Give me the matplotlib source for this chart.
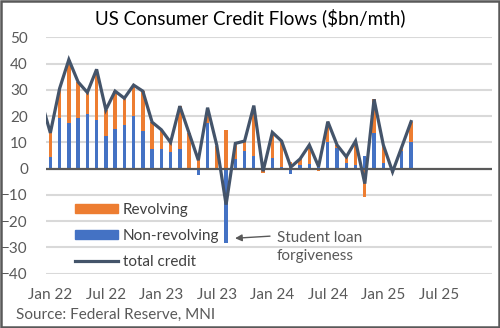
import matplotlib
matplotlib.use("Agg")
import matplotlib.pyplot as plt
from matplotlib.patches import Patch
from matplotlib.lines import Line2D
import numpy as np

plt.rcParams['font.family'] = ['Lato', 'DejaVu Sans']

# Months Jan 22 .. Apr 25
non_revolving = [4.4, 19.4, 17.5, 19.4, 20.9, 18.6, 12.4, 15.1, 16.6, 20.0,
                 14.3, 7.5, 7.4, 6.4, 7.5, 0.0, -2.3, 17.2, 0.3, -28.4,
                 3.6, 6.7, 4.8, 0.5, 4.0, 0.7, -1.9, 1.2, 1.7, 1.6,
                 10.2, 7.7, 2.0, 1.4, 5.0, 13.4, 2.3, 0.3, 6.8, 10.2]
revolving = [9.2, 11.1, 24.0, 13.6, 8.1, 19.2, 10.0, 14.4, 10.2, 11.8,
             15.2, 10.2, 7.4, 3.6, 16.3, 13.5, 5.5, 6.0, 8.5, 14.7,
             6.0, 3.8, 19.2, -1.5, 9.8, 9.8, 2.5, 2.5, 7.3, -0.8,
             7.7, 1.3, 2.5, 9.1, -10.7, 13.0, 6.7, -1.5, 1.5, 7.7]
total_dec21 = 26.0
tick_labels = ["Jan 22", "Jul 22", "Jan 23", "Jul 23", "Jan 24", "Jul 24", "Jan 25", "Jul 25"]
tick_pos = [0, 6, 12, 18, 24, 30, 36, 42]

nr = np.array(non_revolving)
rv = np.array(revolving)
total = nr + rv
x = np.arange(len(nr))

ORANGE = "#ED7D31"
BLUE = "#4472C4"
LINE = "#44546A"
GRID = "#D9D9D9"
AX = "#595959"

fig = plt.figure(figsize=(5.0, 3.28), dpi=100)
ax = fig.add_axes([0.092, 0.1655, 0.892, 0.7208])

w = 0.36
ax.bar(x, nr, width=w, color=BLUE, zorder=2)
# revolving stacks on non-revolving when same sign, else from zero
rv_bottom = np.where(np.sign(rv) == np.sign(nr), nr, 0.0)
ax.bar(x, rv, width=w, bottom=rv_bottom, color=ORANGE, zorder=2)

lx = np.concatenate([[-1], x])
ly = np.concatenate([[total_dec21], total])
ax.plot(lx, ly, color=LINE, lw=2.3, zorder=3, solid_joinstyle='miter')

ax.set_ylim(-40, 50)
ax.set_xlim(-0.47, 47.75)
ax.set_yticks(np.arange(-40, 51, 10))
for v in np.arange(-40, 51, 10):
    if v != 0:
        ax.axhline(v, color=GRID, lw=1.5, zorder=0)
ax.axhline(0, color=AX, lw=1.6, zorder=2.5)

ax.set_xticks(tick_pos)
ax.set_xticklabels(tick_labels)
ax.tick_params(axis='both', length=0, labelsize=11, colors=AX)
ax.tick_params(axis='y', pad=13)
ax.tick_params(axis='x', pad=10)
for s in ax.spines.values():
    s.set_visible(False)

fig.text(0.5, 0.945, "US Consumer Credit Flows ($bn/mth)", ha='center', va='center',
         fontsize=13.5, color='#000000')
fig.text(0.032, 0.04, "Source: Federal Reserve, MNI", ha='left', va='center',
         fontsize=11, color=AX)

handles = [Patch(color=ORANGE), Patch(color=BLUE), Line2D([], [], color=LINE, lw=2.3)]
leg = ax.legend(handles, ["Revolving", "Non-revolving", "total credit"],
                loc='upper left', bbox_to_anchor=(0.065, 0.30), frameon=False,
                fontsize=11, borderpad=0, handlelength=2.8, handleheight=0.55,
                labelspacing=0.78, handletextpad=0.35, borderaxespad=0)
for t in leg.get_texts():
    t.set_color("#404040")

ax.annotate('', xy=(19.97, -26.5), xytext=(23.75, -25.7),
            arrowprops=dict(arrowstyle='-|>', color=AX, lw=1.0, mutation_scale=10,
                            shrinkA=0, shrinkB=0))
ax.text(24.5, -30, "Student loan\nforgiveness", ha='left', va='center',
        fontsize=11, color=AX, linespacing=1.37)

# outer border
fig.patches.append(plt.Rectangle((0.002, 0.003), 0.996, 0.994, transform=fig.transFigure,
                                 fill=False, edgecolor=AX, lw=1.8))

fig.savefig("out.png", dpi=100)
